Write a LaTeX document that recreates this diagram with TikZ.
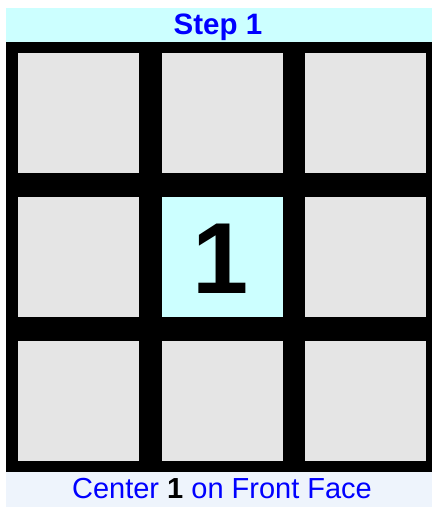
\documentclass[tikz,border=0pt]{standalone}
\usepackage{fontspec}
\setmainfont{Liberation Sans}
\definecolor{bandcyan}{HTML}{CCFFFF}
\definecolor{cellgray}{HTML}{E5E5E5}
\definecolor{bandblue}{HTML}{EEF4FC}
\definecolor{txtblue}{HTML}{0000FF}
\begin{document}
\begin{tikzpicture}[x=1pt,y=-1pt,
  cell/.style={fill=cellgray,draw=none,inner sep=0pt,minimum width=121pt,minimum height=120pt},
  center/.style={cell,fill=bandcyan},
  bignum/.style={font=\fontsize{101}{104}\selectfont\bfseries,inner sep=0pt,anchor=base},
  title/.style={text=txtblue,font=\fontsize{29.5}{32}\selectfont\bfseries,inner sep=0pt,anchor=base},
  caption/.style={text=txtblue,font=\fontsize{29}{32}\selectfont,inner sep=0pt,anchor=base}]
\useasboundingbox (0,0) rectangle (432,507);
\fill[white] (0,0) rectangle (432,507);
% bands
\fill[bandcyan] (6,8) rectangle (432,42);
\fill[black] (6,42) rectangle (432,472);
\fill[bandblue] (6,472) rectangle (432,507);
% cells
\node[cell] (c11) at (78.5,113) {};
\node[cell] (c12) at (222.5,113) {};
\node[cell] (c13) at (365.5,113) {};
\node[cell] (c21) at (78.5,256.5) {};
\node[center] (c22) at (222.5,256.5) {};
\node[cell] (c23) at (365.5,256.5) {};
\node[cell] (c31) at (78.5,400.5) {};
\node[cell] (c32) at (222.5,400.5) {};
\node[cell] (c33) at (365.5,400.5) {};
\node[bignum] (n1) at (221,293) {1};
% texts
\node[title] (t) at (218,34) {Step 1};
\node[caption] (cap) at (222,498) {Center \textcolor{black}{\bfseries 1} on Front Face};
\end{tikzpicture}
\end{document}
